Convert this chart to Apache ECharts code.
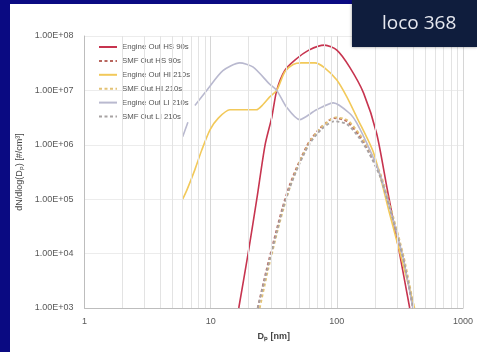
<!DOCTYPE html>
<html>
<head>
<meta charset="utf-8">
<script src="https://cdn.jsdelivr.net/npm/echarts@6/dist/echarts.min.js"></script>
<style>
    html, body { margin: 0; padding: 0; background: #0a0a82; }
    #panel { position: absolute; left: 10px; top: 4px; width: 467px; height: 348px; background: #fff; }
    #chart { position: absolute; left: 0; top: 0; width: 477px; height: 352px; }
</style>
</head>
<body>
<div id="panel"></div>
<div id="chart"></div>
<script>
    // particle size (nm) and concentration
    const hsEngineD = [16.7, 19.8, 23.2, 27, 30.5, 33.4, 38.6, 46.5, 60, 80, 100, 126, 163, 207, 250, 310, 378];
    const hsEngineN = [1e3, 1e4, 1e5, 1e6, 3.2e6, 1e7, 2.3e7, 3.6e7, 5.5e7, 6.8e7, 5.5e7, 2.7e7, 8.9e6, 1.6e6, 1.6e5, 1.2e4, 1e3];

    const hsSmfD = [23.6, 27.7, 33.4, 37.2, 42.2, 50.6, 60.9, 75, 95, 120, 150, 180, 220, 262, 334, 400];
    const hsSmfN = [1e3, 5e3, 2.8e4, 7.1e4, 1.8e5, 5e5, 1.17e6, 2.1e6, 3.1e6, 2.7e6, 1.5e6, 7.6e5, 2.8e5, 7.2e4, 8.7e3, 1e3];

    const hiEngineD = [6.0, 6.5, 7.5, 8.5, 9.9, 11.5, 14.2, 18, 23, 26, 29.4, 33.4, 38.7, 45, 52.5, 60, 67, 80, 100, 120, 144, 196, 260, 330, 413];
    const hiEngineN = [1e5, 1.5e5, 3.5e5, 8e5, 1.9e6, 3.1e6, 4.4e6, 4.4e6, 4.4e6, 5.5e6, 7.6e6, 1e7, 2.2e7, 3e7, 3.2e7, 3.2e7, 3.2e7, 2.6e7, 1.55e7, 7.6e6, 3.2e6, 7e5, 5.8e4, 7.2e3, 1e3];

    const hiSmfD = [24.5, 28.5, 34, 38, 43, 51, 62, 77, 98, 122, 152, 182, 222, 265, 338, 410];
    const hiSmfN = [1e3, 5e3, 2.7e4, 7e4, 1.8e5, 5e5, 1.2e6, 2.2e6, 3.2e6, 2.8e6, 1.55e6, 7.8e5, 2.9e5, 7.5e4, 9e3, 1e3];

    const liEngineD = [6.0, 6.6, 7.0, 7.5, 9.3, 12.5, 17, 21.6, 29.4, 33.4, 40, 50.6, 69, 94, 126, 144, 183, 220, 262, 334, 400];
    const liEngineN = [1.4e6, 2.6e6, null, 5.3e6, 1e7, 2.3e7, 3.2e7, 2.7e7, 1.3e7, 1e7, 4.9e6, 2.9e6, 4.4e6, 5.9e6, 3.8e6, 2.5e6, 8e5, 2.8e5, 7.2e4, 8.7e3, 1e3];

    const liSmfD = [23.6, 27.7, 33.4, 37.2, 42.2, 50.6, 60.9, 75, 95, 120, 150, 180, 220, 262, 334, 405];
    const liSmfN = [1e3, 4.5e3, 2.5e4, 6.5e4, 1.6e5, 4.5e5, 1.05e6, 1.9e6, 2.7e6, 2.4e6, 1.35e6, 7e5, 2.6e5, 7e4, 8.5e3, 1e3];

    const seriesNames = ['Engine Out HS 90s', 'SMF Out HS 90s', 'Engine Out HI 210s', 'SMF Out HI 210s', 'Engine Out LI 210s', 'SMF Out LI 210s'];
    const xTickLabels = ['1', '10', '100', '1000'];
    const yTickLabels = ['1.00E+03', '1.00E+04', '1.00E+05', '1.00E+06', '1.00E+07', '1.00E+08'];
    // minor vertical grid lines (2..9 in each decade)
    const minorGridX = [2, 3, 4, 5, 6, 7, 8, 9, 20, 30, 40, 50, 60, 70, 80, 90, 200, 300, 400, 500, 600, 700, 800, 900];

    function pairs(d, n) {
        return d.map(function (v, i) { return [v, n[i]]; });
    }

    function line(name, d, n, color, dashed) {
        return {
            name: name,
            type: 'line',
            data: pairs(d, n),
            showSymbol: false,
            symbol: 'none',
            smooth: 0.25,
            z: 3,
            lineStyle: { color: color, width: dashed ? 1.8 : 1.6, type: dashed ? [3, 2.5] : 'solid' },
            itemStyle: { color: color }
        };
    }

    const myChart = echarts.init(document.getElementById('chart'));
    myChart.setOption({
        textStyle: { fontFamily: 'Liberation Sans' },
        animation: false,
        grid: { left: 84.5, right: 14, top: 36, bottom: 44 },
        legend: {
            data: seriesNames,
            orient: 'vertical',
            left: 93,
            top: 38,
            itemWidth: 18,
            itemHeight: 8,
            itemGap: 5.9,
            itemStyle: { opacity: 0 },
            textStyle: { fontSize: 7.8, color: '#555', lineHeight: 8 }
        },
        xAxis: {
            type: 'log',
            logBase: 10,
            min: 1,
            max: 1000,
            name: 'Dₚ [nm]',
            nameLocation: 'middle',
            nameGap: 24,
            nameTextStyle: { fontSize: 9, fontWeight: 'bold', color: '#444' },
            axisLine: { lineStyle: { color: '#bdbdbd' } },
            axisTick: { show: false },
            axisLabel: {
                fontSize: 9,
                color: '#595959',
                margin: 9,
                formatter: function (v) {
                    return xTickLabels[Math.round(Math.log10(v))];
                }
            },
            splitLine: { show: true, lineStyle: { color: '#d6d6d6' } }
        },
        yAxis: {
            type: 'log',
            logBase: 10,
            min: 1e3,
            max: 1e8,
            name: 'dN/dlog(Dₚ) [#/cm³]',
            nameLocation: 'middle',
            nameGap: 59,
            nameTextStyle: { fontSize: 9, color: '#444' },
            axisLine: { show: true, lineStyle: { color: '#bdbdbd' } },
            axisTick: { show: false },
            axisLabel: {
                fontSize: 9,
                color: '#595959',
                margin: 11,
                formatter: function (v) {
                    return yTickLabels[Math.round(Math.log10(v)) - 3];
                }
            },
            splitLine: { show: true, lineStyle: { color: '#ececec' } }
        },
        graphic: [
            {
                type: 'rect',
                left: 352,
                top: 0,
                shape: { width: 125, height: 47 },
                style: { fill: '#0f1d3d', shadowBlur: 3, shadowColor: 'rgba(0,0,0,0.4)' },
                z: 10
            },
            {
                type: 'text',
                left: 382,
                top: 14,
                style: { text: 'loco 368', fill: '#e6e8ef', font: '19px "Open Sans"' },
                z: 11
            }
        ],
        series: [
            {
                // holder for the minor grid lines
                type: 'line',
                data: [],
                silent: true,
                z: 1,
                markLine: {
                    silent: true,
                    symbol: ['none', 'none'],
                    label: { show: false },
                    lineStyle: { color: '#e3e3e3', width: 1, type: 'solid' },
                    data: minorGridX.map(function (v) { return { xAxis: v }; })
                }
            },
            line(seriesNames[0], hsEngineD, hsEngineN, '#c7344f', false),
            line(seriesNames[1], hsSmfD, hsSmfN, '#b8665e', true),
            line(seriesNames[2], hiEngineD, hiEngineN, '#f2c95a', false),
            line(seriesNames[3], hiSmfD, hiSmfN, '#e3c275', true),
            line(seriesNames[4], liEngineD, liEngineN, '#b9b9cf', false),
            line(seriesNames[5], liSmfD, liSmfN, '#a8a3a3', true)
        ]
    });
</script>
</body>
</html>
